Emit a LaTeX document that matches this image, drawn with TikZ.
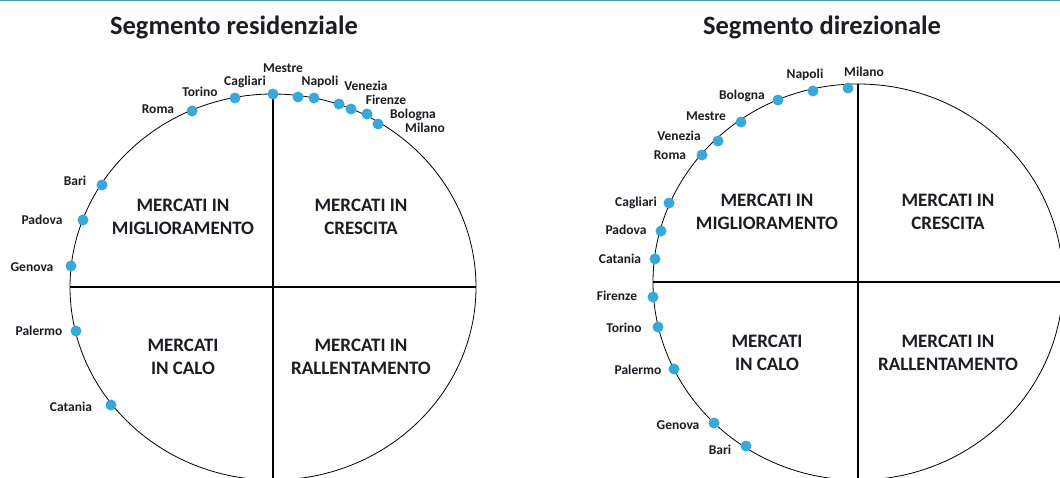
\documentclass[tikz,border=0pt]{standalone}
\usepackage{fontspec}
\setmainfont{Carlito}
\usetikzlibrary{shapes.geometric}
\definecolor{puntoblu}{HTML}{36A8DA}
\definecolor{bordoteal}{HTML}{3E9FAA}
\definecolor{testo}{HTML}{1C1C24}

\begin{document}
\begin{tikzpicture}[x=1pt, y=-1pt,
    citta/.style ={circle, fill=puntoblu, inner sep=0pt, minimum size=11pt},
    nome/.style ={font=\fontsize{13.5}{15}\selectfont\bfseries, text=testo, inner sep=0pt, anchor=base, yshift=-4.5pt},
    quadrante/.style ={ellipse, draw, line width=0.8pt, inner sep=0pt},
    mercato/.style ={font=\fontsize{19}{23}\selectfont\bfseries, text=testo, align=center},
    titolo/.style ={font=\fontsize{26.5}{30}\selectfont\bfseries, text=testo, anchor=base}]
   \useasboundingbox (0,0) rectangle (1060,477);
   \clip (0,0) rectangle (1060,477);
   \fill[white] (0,0) rectangle (1060,477);
   \draw[bordoteal, line width=2pt] (0,0) -- (1060,0);

   % segmento residenziale
   \node[titolo] (tRes) at (234,34) {Segmento residenziale};
   \node[quadrante, minimum width=406pt, minimum height=386pt] (Res) at (273,287) {};
   \draw[line width=1.1pt] (Res.north) to (Res.south);
   \draw[line width=1.1pt] (Res.west) to (Res.east);
   \node[mercato] (resMig) at (183,217) {MERCATI IN\\MIGLIORAMENTO};
   \node[mercato] (resCre) at (361,217) {MERCATI IN\\CRESCITA};
   \node[mercato] (resCal) at (183,357) {MERCATI\\IN CALO};
   \node[mercato] (resRal) at (361,357) {MERCATI IN\\RALLENTAMENTO};

   \node[citta] (resRoma) at (192,111) {};
   \node[nome] (nresRoma) at (158,109) {Roma};
   \node[citta] (resTorino) at (235,98) {};
   \node[nome] (nresTorino) at (200,92) {Torino};
   \node[citta] (resCagliari) at (273,94) {};
   \node[nome] (nresCagliari) at (245,81) {Cagliari};
   \node[citta] (resMestre) at (298,97) {};
   \node[nome] (nresMestre) at (283,68) {Mestre};
   \node[citta] (resNapoli) at (314,98) {};
   \node[nome] (nresNapoli) at (320,81) {Napoli};
   \node[citta] (resVenezia) at (339,104) {};
   \node[nome] (nresVenezia) at (366,86) {Venezia};
   \node[citta] (resFirenze) at (351,109) {};
   \node[nome] (nresFirenze) at (386,100) {Firenze};
   \node[citta] (resBologna) at (367,114) {};
   \node[nome] (nresBologna) at (413,114) {Bologna};
   \node[citta] (resMilano) at (378,124) {};
   \node[nome] (nresMilano) at (425,128) {Milano};
   \node[citta] (resBari) at (102,185) {};
   \node[nome] (nresBari) at (75,181) {Bari};
   \node[citta] (resPadova) at (83,220) {};
   \node[nome] (nresPadova) at (42,220) {Padova};
   \node[citta] (resGenova) at (71,266) {};
   \node[nome] (nresGenova) at (32,267) {Genova};
   \node[citta] (resPalermo) at (76,331) {};
   \node[nome] (nresPalermo) at (39,331) {Palermo};
   \node[citta] (resCatania) at (111,405) {};
   \node[nome] (nresCatania) at (71,407) {Catania};

   % segmento direzionale
   \node[titolo] (tDir) at (822,34) {Segmento direzionale};
   \node[quadrante, minimum width=410pt, minimum height=396pt] (Dir) at (858,282) {};
   \draw[line width=1.1pt] (Dir.north) to (Dir.south);
   \draw[line width=1.1pt] (Dir.west) to (Dir.east);
   \node[mercato] (dirMig) at (767,212) {MERCATI IN\\MIGLIORAMENTO};
   \node[mercato] (dirCre) at (948,212) {MERCATI IN\\CRESCITA};
   \node[mercato] (dirCal) at (767,353) {MERCATI\\IN CALO};
   \node[mercato] (dirRal) at (948,353) {MERCATI IN\\RALLENTAMENTO};

   \node[citta] (dirMilano) at (848,88) {};
   \node[nome] (ndirMilano) at (864,72) {Milano};
   \node[citta] (dirNapoli) at (813,91) {};
   \node[nome] (ndirNapoli) at (805,74) {Napoli};
   \node[citta] (dirBologna) at (778,100) {};
   \node[nome] (ndirBologna) at (742,95) {Bologna};
   \node[citta] (dirMestre) at (741,122) {};
   \node[nome] (ndirMestre) at (706,116) {Mestre};
   \node[citta] (dirVenezia) at (718,141) {};
   \node[nome] (ndirVenezia) at (679,136) {Venezia};
   \node[citta] (dirRoma) at (702,155) {};
   \node[nome] (ndirRoma) at (670,155) {Roma};
   \node[citta] (dirCagliari) at (669,203) {};
   \node[nome] (ndirCagliari) at (636,202) {Cagliari};
   \node[citta] (dirPadova) at (661,231) {};
   \node[nome] (ndirPadova) at (626,230) {Padova};
   \node[citta] (dirCatania) at (655,259) {};
   \node[nome] (ndirCatania) at (620,259) {Catania};
   \node[citta] (dirFirenze) at (653,297) {};
   \node[nome] (ndirFirenze) at (617,296) {Firenze};
   \node[citta] (dirTorino) at (658,327) {};
   \node[nome] (ndirTorino) at (624,328) {Torino};
   \node[citta] (dirPalermo) at (674,369) {};
   \node[nome] (ndirPalermo) at (638,370) {Palermo};
   \node[citta] (dirGenova) at (714,423) {};
   \node[nome] (ndirGenova) at (678,425) {Genova};
   \node[citta] (dirBari) at (746,446) {};
   \node[nome] (ndirBari) at (720,450) {Bari};
 \end{tikzpicture}
\end{document}
